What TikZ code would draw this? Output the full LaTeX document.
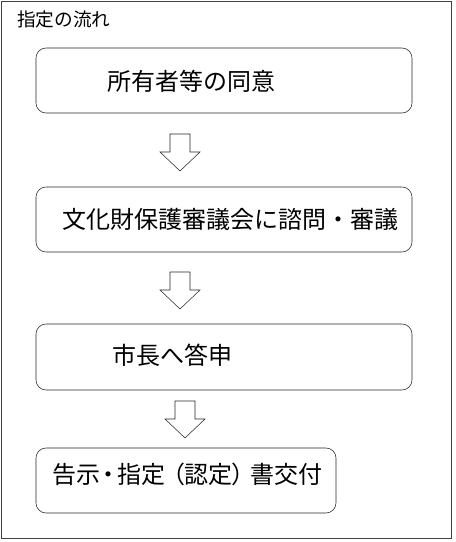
\documentclass[tikz,border=0pt]{standalone}
\usepackage{fontspec}
\setmainfont{Noto Sans CJK JP}
\tikzset{
  stepbox/.style={draw=black!85, thin, rounded corners=7.5pt, inner sep=0pt},
  steptext/.style={inner sep=0pt, font=\fontsize{18}{20}\selectfont},
  downarrow/.pic={
    \draw[black!85, thin] (-10,0) -- (10,0) -- (10,18) -- (20,18)
      -- (0,37) -- (-20,18) -- (-10,18) -- cycle;
  }
}
\begin{document}
\begin{tikzpicture}[x=0.75pt, y=-0.75pt]
  \useasboundingbox (0,0) rectangle (456,542);

  % Frame and title
  \draw[black!75, thin] (1,1) rectangle (451,538);
  \node[inner sep=0pt, anchor=west, font=\fontsize{14}{16}\selectfont] (title) at (17,19) {指定の流れ};

  % Boxes
  \node[stepbox, minimum width=282pt, minimum height=48.75pt] (b1) at (224,80.5) {};
  \node[stepbox, minimum width=282pt, minimum height=48.75pt] (b2) at (224,219.5) {};
  \node[stepbox, minimum width=282pt, minimum height=49.5pt] (b3) at (224,357) {};
  \node[stepbox, minimum width=225pt, minimum height=48.75pt] (b4) at (186,480.5) {};

  % Texts
  \node[steptext, anchor=west] (t1) at (107,81) {所有者等の同意};
  \node[steptext, anchor=west] (t2) at (62,219) {文化財保護審議会に諮問・審議};
  \node[steptext, anchor=west] (t3) at (112,355) {市長へ答申};
  \node[steptext, anchor=west] (t4) at (52,474)
    {\addfontfeatures{RawFeature=+palt}告示\hspace{2pt}・\hspace{2pt}指定\hspace{5pt}（認定）\hspace{5pt}書交付};

  % Arrows
  \pic at (180,134) {downarrow};
  \pic at (180,272) {downarrow};
  \pic at (185,401) {downarrow};

\end{tikzpicture}
\end{document}
